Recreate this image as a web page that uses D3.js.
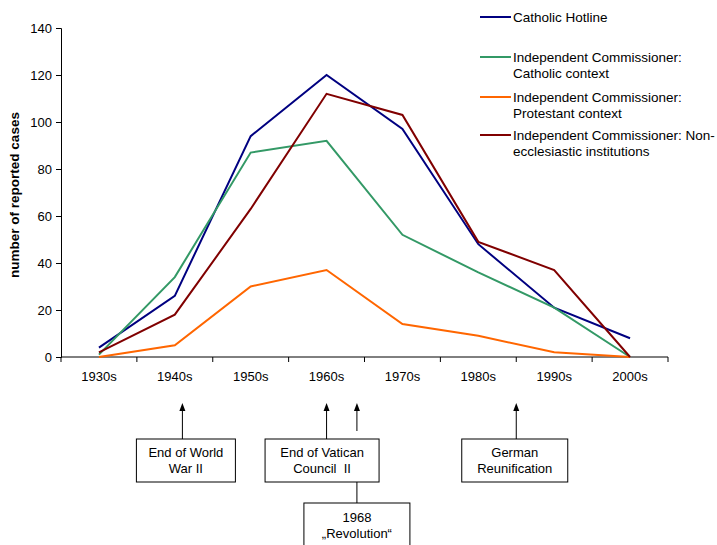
<!DOCTYPE html>
<html>
<head>
<meta charset="utf-8">
<script src="https://cdn.jsdelivr.net/npm/d3@7"></script>
<style>
  body { margin: 0; background: #fff; }
  svg { display: block; font-family: "Liberation Sans", Arial, sans-serif; }
</style>
</head>
<body>
<svg id="chart" width="717" height="545"></svg>
<script>
// Decades on the x axis
const decades = ["1930s", "1940s", "1950s", "1960s", "1970s", "1980s", "1990s", "2000s"];

// Reported cases per decade, one array per source
const catholicHotline = [4, 26, 94, 120, 97, 48, 21, 8];
const commissionerCatholic = [1, 34, 87, 92, 52, 36, 21, 0];
const commissionerProtestant = [0, 5, 30, 37, 14, 9, 2, 0];
const commissionerNonEccl = [2, 18, 63, 112, 103, 49, 37, 0];

const seriesNames = [
  ["Catholic Hotline"],
  ["Independent Commissioner:", "Catholic context"],
  ["Independent Commissioner:", "Protestant context"],
  ["Independent Commissioner: Non-", "ecclesiastic institutions"]
];
const seriesColors = ["#000080", "#339966", "#FF6600", "#800000"];
const seriesValues = [catholicHotline, commissionerCatholic, commissionerProtestant, commissionerNonEccl];

const yTicks = [0, 20, 40, 60, 80, 100, 120, 140];

// Historical events marked beneath the axis (position in years on the timeline)
const eventLabels = [["End of World", "War II"], ["End of Vatican", "Council\u00A0 II"], ["German", "Reunification"]];
const eventAt = [1946, 1965, 1990];
const revolutionLabel = ["1968", "\u201ERevolution\u201C"];
const revolutionAt = 1969;

const svg = d3.select("#chart");
const plotLeft = 61, plotRight = 668, plotTop = 28, plotBottom = 357;
const fontSize = 13;

const x = d3.scaleBand().domain(decades).range([plotLeft, plotRight]);
const y = d3.scaleLinear().domain([0, 140]).range([plotBottom, plotTop]);
// Continuous timeline matching the decade bands
const t = d3.scaleLinear().domain([1930, 2010]).range([plotLeft, plotRight]);

// Y axis
const yAxis = svg.append("g")
  .attr("transform", `translate(${plotLeft},0)`)
  .call(d3.axisLeft(y).tickValues(yTicks).tickSize(5).tickPadding(4));
yAxis.select(".domain").attr("stroke", "#000");
yAxis.selectAll(".tick line").attr("stroke", "#000");
yAxis.selectAll(".tick text").attr("font-size", fontSize).attr("fill", "#000")
  .attr("font-family", "Liberation Sans, Arial, sans-serif");

// X axis with ticks between the decades
const xAxis = svg.append("g")
  .attr("transform", `translate(0,${plotBottom})`)
  .call(d3.axisBottom(x).tickSize(0).tickPadding(15));
xAxis.select(".domain").attr("stroke", "#000").attr("d", `M${plotLeft},0H${plotRight}`);
xAxis.selectAll(".tick text").attr("font-size", fontSize).attr("fill", "#000")
  .attr("font-family", "Liberation Sans, Arial, sans-serif");
const boundaries = decades.map(d => x(d)).concat([x(decades[decades.length - 1]) + x.bandwidth()]);
xAxis.selectAll(".bound").data(boundaries).enter().append("line")
  .attr("x1", d => d).attr("x2", d => d).attr("y1", 0).attr("y2", 5)
  .attr("stroke", "#000");

// Y axis title
svg.append("text")
  .attr("transform", `translate(19,195) rotate(-90)`)
  .attr("text-anchor", "middle")
  .attr("font-size", 13.5).attr("font-weight", "bold")
  .text("number of reported cases");

// Lines
const line = d3.line()
  .x((d, i) => x(decades[i]) + x.bandwidth() / 2)
  .y(d => y(d));
seriesValues.forEach((vals, i) => {
  svg.append("path")
    .datum(vals)
    .attr("fill", "none")
    .attr("stroke", seriesColors[i])
    .attr("stroke-width", 2)
    .attr("d", line);
});

// Legend
const legendRows = [17, 57, 97, 135];
seriesNames.forEach((lines, i) => {
  const g = svg.append("g").attr("transform", `translate(480,${legendRows[i]})`);
  g.append("line").attr("x1", 0).attr("x2", 31).attr("y1", 0).attr("y2", 0)
    .attr("stroke", seriesColors[i]).attr("stroke-width", 2);
  lines.forEach((s, j) => {
    g.append("text").attr("x", 33).attr("y", j * 16 + 5)
      .attr("font-size", 13.5).text(s);
  });
});

// Event annotations
const boxTop = 439, boxH = 43, arrowTip = 403;
const boxWidths = [99, 114, 106];
const boxCenters = [t(eventAt[0]) + 3.5, t(eventAt[1]) - 4.5, t(eventAt[2]) - 1.5];

function arrowHead(px) {
  svg.append("path")
    .attr("d", `M${px - 3},${arrowTip + 8}L${px},${arrowTip}L${px + 3},${arrowTip + 8}Z`)
    .attr("fill", "#000");
}

eventLabels.forEach((lines, i) => {
  const px = t(eventAt[i]);
  svg.append("line")
    .attr("x1", px).attr("x2", px)
    .attr("y1", boxTop).attr("y2", arrowTip + 4)
    .attr("stroke", "#000").attr("stroke-width", 1);
  arrowHead(px);
  svg.append("rect")
    .attr("x", boxCenters[i] - boxWidths[i] / 2).attr("y", boxTop)
    .attr("width", boxWidths[i]).attr("height", boxH)
    .attr("fill", "#fff").attr("stroke", "#000");
  lines.forEach((s, j) => {
    svg.append("text").attr("x", boxCenters[i]).attr("y", boxTop + 18 + j * 16)
      .attr("text-anchor", "middle").attr("font-size", fontSize).text(s);
  });
});

// 1968 marker: arrow above the Vatican box, connector below it to its own box
const rx = t(revolutionAt);
svg.append("line")
  .attr("x1", rx).attr("x2", rx).attr("y1", 431).attr("y2", arrowTip + 4)
  .attr("stroke", "#000");
arrowHead(rx);
svg.append("line")
  .attr("x1", rx).attr("x2", rx).attr("y1", boxTop + boxH).attr("y2", 503)
  .attr("stroke", "#000");
svg.append("rect")
  .attr("x", rx - 53).attr("y", 503).attr("width", 106).attr("height", 50)
  .attr("fill", "#fff").attr("stroke", "#000");
revolutionLabel.forEach((s, j) => {
  svg.append("text").attr("x", rx).attr("y", 522 + j * 16)
    .attr("text-anchor", "middle").attr("font-size", fontSize).text(s);
});
</script>
</body>
</html>
